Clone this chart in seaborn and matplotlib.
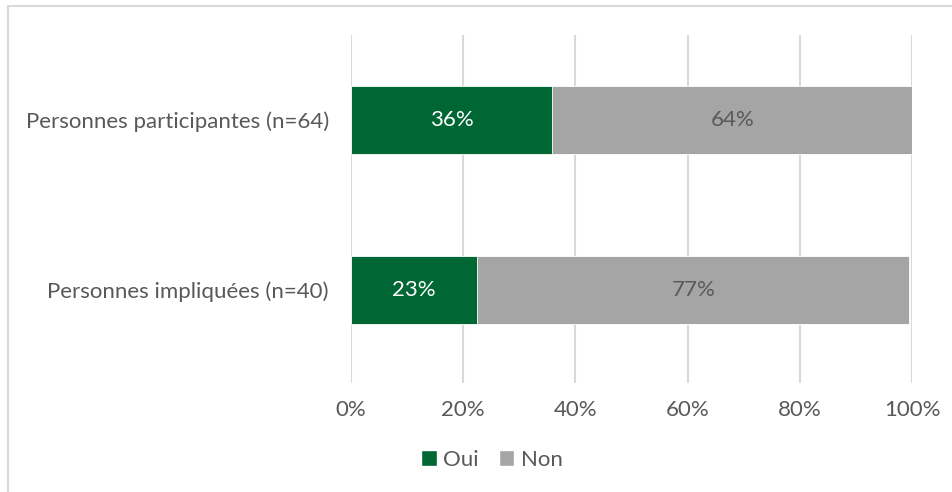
import matplotlib
matplotlib.use("Agg")
import pandas as pd
import seaborn as sns
import matplotlib.pyplot as plt
from matplotlib.patches import Patch
from matplotlib.lines import Line2D

# données
categories = ["Personnes participantes (n=64)", "Personnes impliquées (n=40)"]
oui = [35.9, 22.5]
non = [64.1, 77.0]
oui_labels = ["36%", "23%"]
non_labels = ["64%", "77%"]
ticks = [0, 20, 40, 60, 80, 100]

green = "#006633"
grey = "#A5A5A5"
txt = "#595959"
fs = 16

sns.set_theme(style="white")
plt.rcParams["font.family"] = ["Lato", "DejaVu Sans"]

df = pd.DataFrame({"cat": categories, "oui": oui, "non": non})
df["total"] = df["oui"] + df["non"]

fig = plt.figure(figsize=(9.53, 4.92), dpi=100)
ax = fig.add_axes([351 / 953, 1 - 383 / 492, (912 - 351) / 953, (383 - 35) / 492])

# gris = total, vert par-dessus
sns.barplot(data=df, x="total", y="cat", color=grey, width=0.4, ax=ax,
            saturation=1, edgecolor="white", linewidth=0.6, zorder=3)
sns.barplot(data=df, x="oui", y="cat", color=green, width=0.4, ax=ax,
            saturation=1, edgecolor="white", linewidth=0.6, zorder=4)

for i in range(len(categories)):
    ax.text(oui[i] / 2, i, oui_labels[i], ha="center", va="center",
            color="white", fontsize=fs, zorder=5)
    ax.text(oui[i] + non[i] / 2, i, non_labels[i], ha="center", va="center",
            color=txt, fontsize=fs, zorder=5)

ax.set_xlim(0, 100)
ax.set_ylim(1.55, -0.5)
ax.set_xticks(ticks)
ax.set_xticklabels([f"{t}%" for t in ticks])
ax.xaxis.grid(True, color="#D9D9D9", linewidth=1.5, zorder=0)
ax.yaxis.grid(False)
ax.set_axisbelow(True)
for s in ax.spines.values():
    s.set_visible(False)
ax.set_xlabel("")
ax.set_ylabel("")
ax.tick_params(axis="x", colors=txt, labelsize=fs, length=0, pad=12)
ax.tick_params(axis="y", colors=txt, labelsize=fs, length=0, pad=16)

handles = [Patch(facecolor=green, label="Oui"), Patch(facecolor=grey, label="Non")]
fig.legend(handles=handles, loc="center", bbox_to_anchor=(492 / 953, 1 - 460 / 492),
           ncol=2, frameon=False, fontsize=fs, labelcolor=txt,
           handlelength=0.7, handleheight=0.7, handletextpad=0.3, columnspacing=0.9)

# bordure (haut et gauche)
fig.add_artist(Line2D([8 / 953, 8 / 953], [0, 1 - 6 / 492], transform=fig.transFigure,
                      color="#D9D9D9", linewidth=1.5))
fig.add_artist(Line2D([8 / 953, 1], [1 - 6 / 492, 1 - 6 / 492], transform=fig.transFigure,
                      color="#D9D9D9", linewidth=1.5))

fig.savefig("out.png", dpi=100)
